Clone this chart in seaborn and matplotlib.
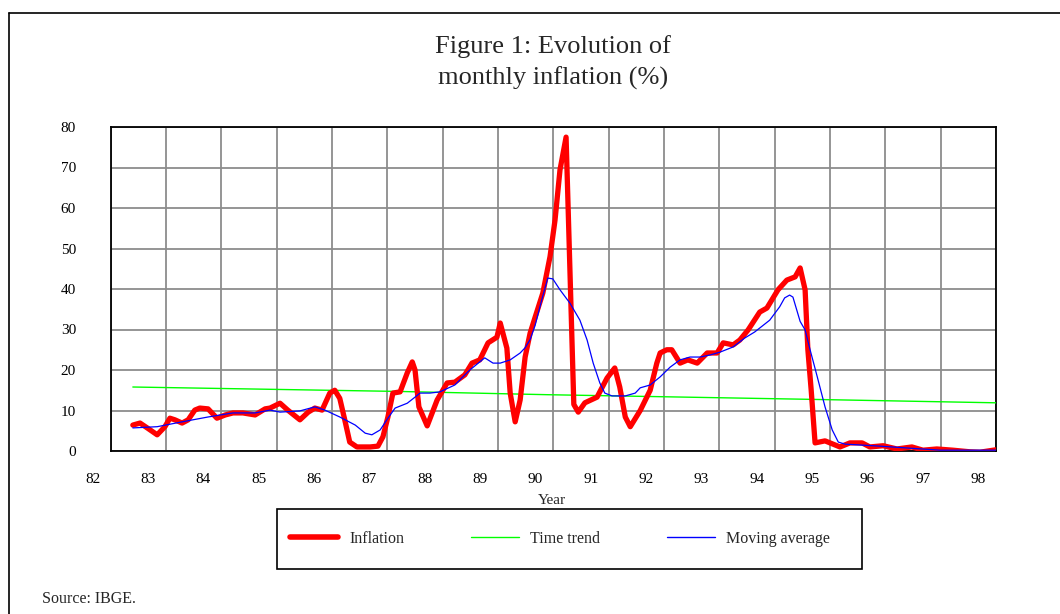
import matplotlib
matplotlib.use("Agg")
import matplotlib.pyplot as plt
import seaborn as sns
import pandas as pd
from matplotlib.transforms import ScaledTranslation
from matplotlib.patches import Rectangle
from matplotlib.lines import Line2D

# ---------------- data ----------------
infl_year = [82.40, 82.53, 82.66, 82.84, 82.98, 83.07, 83.16, 83.29, 83.40, 83.52,
             83.61, 83.76, 83.92, 84.07, 84.21, 84.39, 84.61, 84.79, 84.88, 85.06,
             85.20, 85.42, 85.57, 85.69, 85.82, 85.96, 86.05, 86.14, 86.23, 86.32,
             86.45, 86.69, 86.83, 86.92, 87.01, 87.10, 87.23, 87.36, 87.45, 87.50,
             87.57, 87.72, 87.90, 88.08, 88.22, 88.40, 88.53, 88.67, 88.82, 88.98,
             89.04, 89.16, 89.22, 89.31, 89.40, 89.49, 89.58, 89.67, 89.81, 89.94,
             90.03, 90.12, 90.23, 90.37, 90.45, 90.57, 90.79, 90.97, 91.11, 91.20,
             91.30, 91.39, 91.57, 91.75, 91.87, 91.93, 92.05, 92.14, 92.29, 92.43,
             92.60, 92.78, 92.96, 93.07, 93.25, 93.37, 93.52, 93.73, 93.86, 94.06,
             94.22, 94.37, 94.46, 94.55, 94.60, 94.66, 94.73, 94.91, 95.18, 95.36,
             95.58, 95.72, 95.96, 96.21, 96.48, 96.68, 96.93, 97.22, 97.53, 97.71,
             97.95, 98.00]
infl_value = [6.4, 6.9, 5.7, 4.0, 6.0, 8.1, 7.7, 6.9, 7.7, 10.1,
              10.6, 10.4, 8.1, 8.9, 9.4, 9.4, 8.9, 10.4, 10.6, 11.8,
              10.1, 7.7, 9.6, 10.6, 10.1, 14.3, 15.0, 13.0, 7.7, 2.2,
              1.0, 1.0, 1.2, 3.5, 8.4, 14.3, 14.6, 19.3, 22.0, 20.0,
              10.9, 6.2, 12.6, 16.8, 17.0, 18.8, 21.7, 22.5, 26.7, 28.1,
              31.6, 25.4, 14.3, 7.2, 12.6, 23.2, 29.1, 33.0, 39.0, 48.0,
              57.0, 69.4, 77.5, 11.5, 9.6, 11.9, 13.3, 18.0, 20.5, 15.8,
              8.4, 6.0, 10.0, 15.0, 21.7, 24.2, 25.0, 25.0, 21.7, 22.5,
              21.7, 24.2, 24.2, 26.7, 26.2, 27.4, 29.9, 34.3, 35.3, 39.8,
              42.2, 43.0, 45.2, 39.8, 25.0, 15.0, 2.0, 2.5, 1.0, 2.0,
              2.0, 1.0, 1.3, 0.5, 1.0, 0.2, 0.5, 0.2, -0.2, -0.3,
              0.2, 0.3]

ma_year = [82.40, 82.84, 83.29, 83.76, 84.21, 84.61, 84.88, 85.06, 85.42, 85.69,
           85.87, 86.14, 86.42, 86.60, 86.72, 86.87, 87.01, 87.14, 87.36, 87.50,
           87.59, 87.77, 87.95, 88.22, 88.49, 88.67, 88.76, 88.91, 89.04, 89.22,
           89.40, 89.49, 89.58, 89.67, 89.79, 89.90, 89.99, 90.12, 90.30, 90.48,
           90.61, 90.72, 90.84, 90.93, 91.06, 91.30, 91.48, 91.57, 91.75, 91.93,
           92.11, 92.29, 92.47, 92.65, 92.83, 93.01, 93.25, 93.46, 93.64, 93.91,
           94.09, 94.18, 94.27, 94.33, 94.46, 94.55, 94.64, 94.77, 94.91, 95.04,
           95.15, 95.27, 95.90, 96.44, 96.99, 97.95, 98.00]
ma_value = [5.7, 6.0, 7.2, 8.4, 9.4, 9.4, 10.1, 9.6, 9.9, 10.9,
            10.1, 8.4, 6.4, 4.4, 4.0, 5.2, 8.1, 10.6, 11.8, 13.3,
            14.3, 14.3, 14.6, 16.3, 20.0, 22.0, 23.0, 21.7, 21.7, 22.5,
            24.2, 25.5, 27.5, 31.0, 37.3, 42.7, 42.5, 39.8, 36.5, 32.3,
            27.4, 21.7, 16.8, 14.3, 13.6, 13.6, 14.3, 15.6, 16.3, 18.3,
            20.7, 22.5, 23.2, 23.2, 23.7, 24.4, 25.7, 27.9, 29.4, 32.3,
            35.6, 37.8, 38.5, 38.0, 32.0, 29.9, 25.0, 18.3, 10.9, 5.2,
            2.2, 1.7, 1.2, 0.7, 0.2, 0.2, 0.2]

trend_year = [82.40, 87.23, 89.90, 94.46, 98.00]
trend_value = [15.8, 14.7, 13.9, 12.8, 11.9]

year_ticks = list(range(82, 99))
year_labels = [str(y) for y in year_ticks]
value_ticks = list(range(0, 81, 10))

series_names = ["Inflation", "Time trend", "Moving average"]
series_colors = ["#ff0000", "#00ff00", "#0000ff"]

df_infl = pd.DataFrame({"Year": infl_year, "value": infl_value})
df_ma = pd.DataFrame({"Year": ma_year, "value": ma_value})
df_trend = pd.DataFrame({"Year": trend_year, "value": trend_value})

# ---------------- style ----------------
sns.set_style("white")
plt.rcParams["font.family"] = ["Liberation Serif", "DejaVu Serif"]

W, H = 1060, 614
fig = plt.figure(figsize=(W / 100, H / 100), dpi=100)
fig.patch.set_facecolor("white")

ax_l, ax_r, ax_t, ax_b = 110.7, 996.0, 127.0, 451.0
ax = fig.add_axes([ax_l / W, 1 - ax_b / H, (ax_r - ax_l) / W, (ax_b - ax_t) / H])

sns.lineplot(data=df_trend, x="Year", y="value", ax=ax, color=series_colors[1],
             lw=1.0, label=series_names[1], zorder=3)
sns.lineplot(data=df_infl, x="Year", y="value", ax=ax, color=series_colors[0],
             lw=3.8, label=series_names[0], zorder=4)
sns.lineplot(data=df_ma, x="Year", y="value", ax=ax, color=series_colors[2],
             lw=0.9, label=series_names[2], zorder=5)

ax.set_xlim(82, 98)
ax.set_ylim(0, 80)
ax.set_xticks(year_ticks)
ax.set_xticklabels(year_labels)
ax.set_yticks(value_ticks)
ax.set_yticklabels([str(v) for v in value_ticks])
ax.grid(True, color="#8c8c8c", lw=1.3)
ax.set_axisbelow(True)
for s in ax.spines.values():
    s.set_color("black")
    s.set_linewidth(1.3)
    s.set_visible(True)
ax.tick_params(axis="both", direction="out", length=7, width=1.2, color="#8c8c8c",
               labelsize=11, labelcolor="black")
ax.tick_params(axis="x", pad=9)
ax.tick_params(axis="y", pad=18)
ax.set_xlabel("")
ax.set_ylabel("")

# Excel-like placement of year labels: shifted left of the gridlines
shift = ScaledTranslation(-18 / 100, 0, fig.dpi_scale_trans)
for lab in ax.get_xticklabels():
    lab.set_transform(lab.get_transform() + shift)

handles, labels = ax.get_legend_handles_labels()
ax.get_legend().remove()
order = [labels.index(n) for n in series_names]
handles = [handles[i] for i in order]
labels = [labels[i] for i in order]

# ---------------- texts ----------------
fig.text(553 / W, 1 - 47 / H, "Figure 1: Evolution of", ha="center", va="center", fontsize=19)
fig.text(553 / W, 1 - 78 / H, "monthly inflation (%)", ha="center", va="center", fontsize=19)
fig.text(552 / W, 1 - 500 / H, "Year", ha="center", va="center", fontsize=11)
fig.text(42 / W, 1 - 599 / H, "Source: IBGE.", ha="left", va="center", fontsize=11.5)

# outer frame (left and top edges)
fig.add_artist(Line2D([9 / W, 9 / W], [0, 1 - 13 / H], color="black", lw=1.2,
                      transform=fig.transFigure))
fig.add_artist(Line2D([9 / W, 1], [1 - 13 / H, 1 - 13 / H], color="black", lw=1.2,
                      transform=fig.transFigure))

# legend box
fig.add_artist(Rectangle((277 / W, 1 - 569 / H), (862 - 277) / W, (569 - 509) / H,
                         fill=False, ec="black", lw=1.2, transform=fig.transFigure))
leg = fig.legend(handles, labels, loc="center left", bbox_to_anchor=(290 / W, 1 - 539 / H),
                 ncol=3, frameon=False, fontsize=11.5, handlelength=3.0,
                 handletextpad=0.7, columnspacing=4.2, borderpad=0, borderaxespad=0)
for lh, lw in zip(leg.get_lines(), [4.0, 1.0, 1.0]):
    lh.set_linewidth(lw)

fig.savefig("out.png", dpi=100)
